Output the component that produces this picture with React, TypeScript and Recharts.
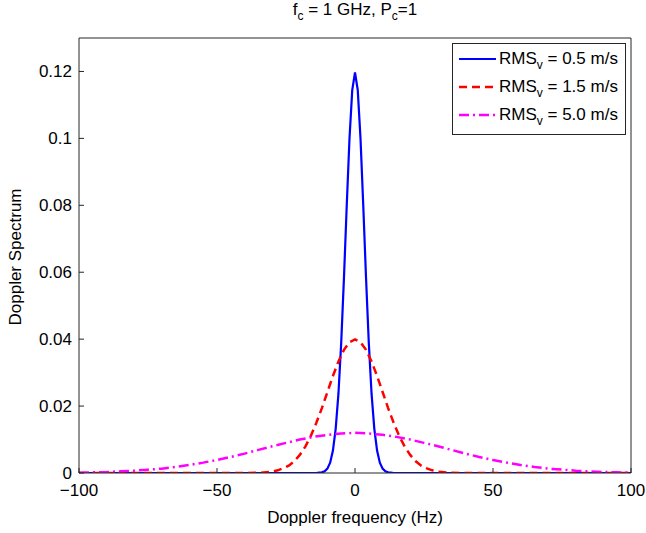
import React from "react";
import { LineChart, Line, XAxis, YAxis } from "recharts";

// Doppler spectra (Hz, spectrum value)
const freqNarrow = [-100, -14, -13, -12, -11, -10, -9, -8, -7, -6, -5, -4, -3, -2, -1, 0, 1, 2, 3, 4, 5, 6, 7, 8, 9, 10, 11, 12, 13, 14, 100];
const specNarrow = [0, 0, 0.0001, 0.0002, 0.0005, 0.0013, 0.0031, 0.0067, 0.0132, 0.0237, 0.0389, 0.0583, 0.0798, 0.0999, 0.1144, 0.1197, 0.1144, 0.0999, 0.0798, 0.0583, 0.0389, 0.0237, 0.0132, 0.0067, 0.0031, 0.0013, 0.0005, 0.0002, 0.0001, 0, 0];

const freqMid = [-100, -40, -34, -30, -28, -26, -24, -22, -20, -18, -16, -14, -12, -10, -8, -6, -4, -2, 0, 2, 4, 6, 8, 10, 12, 14, 16, 18, 20, 22, 24, 26, 28, 30, 34, 40, 100];
const specMid = [0, 0, 0.0001, 0.0004, 0.0008, 0.0014, 0.0022, 0.0035, 0.0054, 0.0079, 0.0111, 0.015, 0.0194, 0.0242, 0.029, 0.0333, 0.0368, 0.0391, 0.0399, 0.0391, 0.0368, 0.0333, 0.029, 0.0242, 0.0194, 0.015, 0.0111, 0.0079, 0.0054, 0.0035, 0.0022, 0.0014, 0.0008, 0.0004, 0.0001, 0, 0];

const freqWide = [-100, -95, -90, -85, -80, -75, -70, -65, -60, -55, -50, -45, -40, -35, -30, -25, -20, -15, -10, -5, 0, 5, 10, 15, 20, 25, 30, 35, 40, 45, 50, 55, 60, 65, 70, 75, 80, 85, 90, 95, 100];
const specWide = [0.0001, 0.0002, 0.0003, 0.0005, 0.0007, 0.001, 0.0013, 0.0018, 0.0024, 0.0031, 0.0039, 0.0048, 0.0058, 0.0069, 0.008, 0.009, 0.01, 0.0108, 0.0114, 0.0118, 0.012, 0.0118, 0.0114, 0.0108, 0.01, 0.009, 0.008, 0.0069, 0.0058, 0.0048, 0.0039, 0.0031, 0.0024, 0.0018, 0.0013, 0.001, 0.0007, 0.0005, 0.0003, 0.0002, 0.0001];

const xTicks = [-100, -50, 0, 50, 100];
const yTicks = [0, 0.02, 0.04, 0.06, 0.08, 0.1, 0.12];

const series = [
  { name: "0.5", freq: freqNarrow, spec: specNarrow, color: "#0000ff", dash: undefined, width: 2.2 },
  { name: "1.5", freq: freqMid, spec: specMid, color: "#ff0000", dash: "8 5", width: 2.5 },
  { name: "5.0", freq: freqWide, spec: specWide, color: "#ff00ff", dash: "10 4 2 4", width: 2.5 },
];

const INK = "#262626";
const FONT = "'Liberation Sans', Arial, sans-serif";
const FS = 17;

const BottomTick = (p: any) => (
  <g>
    <line x1={p.x} y1={p.y} x2={p.x} y2={p.y - 5} stroke={INK} />
    <text x={p.x} y={p.y + 23} textAnchor="middle" fontSize={FS} fill="#000" fontFamily={FONT}>
      {p.payload.value < 0 ? "\u2212" + Math.abs(p.payload.value) : p.payload.value}
    </text>
  </g>
);
const TopTick = (p: any) => <line x1={p.x} y1={p.y} x2={p.x} y2={p.y + 5} stroke={INK} />;
const LeftTick = (p: any) => (
  <g>
    <line x1={p.x} y1={p.y} x2={p.x + 5} y2={p.y} stroke={INK} />
    <text x={p.x - 7} y={p.y + 6} textAnchor="end" fontSize={FS} fill="#000" fontFamily={FONT}>
      {String(p.payload.value)}
    </text>
  </g>
);
const RightTick = (p: any) => <line x1={p.x - 5} y1={p.y} x2={p.x} y2={p.y} stroke={INK} />;

const Sub = ({ t }: { t: string }) => (
  <span style={{ fontSize: 12, position: "relative", top: 5 }}>{t}</span>
);

const LegendBox = () => (
  <div style={{ position: "absolute", left: 452, top: 43, width: 172, border: `1px solid ${INK}`, background: "#fff", padding: "1px 0 5px 0", fontSize: FS }}>
    {series.map((s) => (
      <div key={s.name} style={{ height: 28, display: "flex", alignItems: "center" }}>
        <svg width={41} height={10} style={{ marginLeft: 5 }}>
          <line x1={1} y1={5} x2={38} y2={5} stroke={s.color} strokeWidth={s.width} strokeDasharray={s.dash} />
        </svg>
        <span style={{ color: "#000", whiteSpace: "nowrap" }}>
          RMS<Sub t="v" /> = {s.name} m/s
        </span>
      </div>
    ))}
  </div>
);

export default function App() {
  return (
    <div style={{ position: "absolute", left: 0, top: 0, width: 646, height: 533, background: "#fff", fontFamily: FONT }}>
      <LineChart width={646} height={533} margin={{ top: 37, right: 14, left: 29, bottom: 30 }}>
        <XAxis xAxisId="b" type="number" dataKey="x" domain={[-100, 100]} ticks={xTicks} allowDataOverflow
          height={30} tickSize={0} tickMargin={0} tickLine={false} axisLine={{ stroke: INK }} tick={BottomTick} interval={0} />
        <XAxis xAxisId="t" orientation="top" type="number" dataKey="x" domain={[-100, 100]} ticks={xTicks}
          height={1} tickSize={0} tickMargin={0} tickLine={false} axisLine={{ stroke: INK }} tick={TopTick} interval={0} />
        <YAxis yAxisId="l" type="number" domain={[0, 0.13]} ticks={yTicks} allowDataOverflow
          width={50} tickSize={0} tickMargin={0} tickLine={false} axisLine={{ stroke: INK }} tick={LeftTick} interval={0} />
        <YAxis yAxisId="r" orientation="right" type="number" domain={[0, 0.13]} ticks={yTicks}
          width={1} tickSize={0} tickMargin={0} tickLine={false} axisLine={{ stroke: INK }} tick={RightTick} interval={0} />
        {series.map((s) => (
          <Line key={s.name} xAxisId="b" yAxisId="l" data={s.freq.map((f, i) => ({ x: f, y: s.spec[i] }))}
            dataKey="y" type="linear" stroke={s.color} strokeWidth={s.width} strokeDasharray={s.dash}
            dot={false} activeDot={false} isAnimationActive={false} />
        ))}
      </LineChart>
      <LegendBox />
      <div style={{ position: "absolute", top: 0, left: 0, width: 710, textAlign: "center", fontSize: FS }}>
        f<Sub t="c" /> = 1 GHz, P<Sub t="c" />=1
      </div>
      <div style={{ position: "absolute", top: 508, left: 0, width: 710, textAlign: "center", fontSize: FS }}>
        Doppler frequency (Hz)
      </div>
      <div style={{ position: "absolute", left: 16, top: 257, width: 0, height: 0 }}>
        <div style={{ position: "absolute", transform: "translate(-50%, -50%) rotate(-90deg)", whiteSpace: "nowrap", fontSize: FS }}>
          Doppler Spectrum
        </div>
      </div>
    </div>
  );
}
